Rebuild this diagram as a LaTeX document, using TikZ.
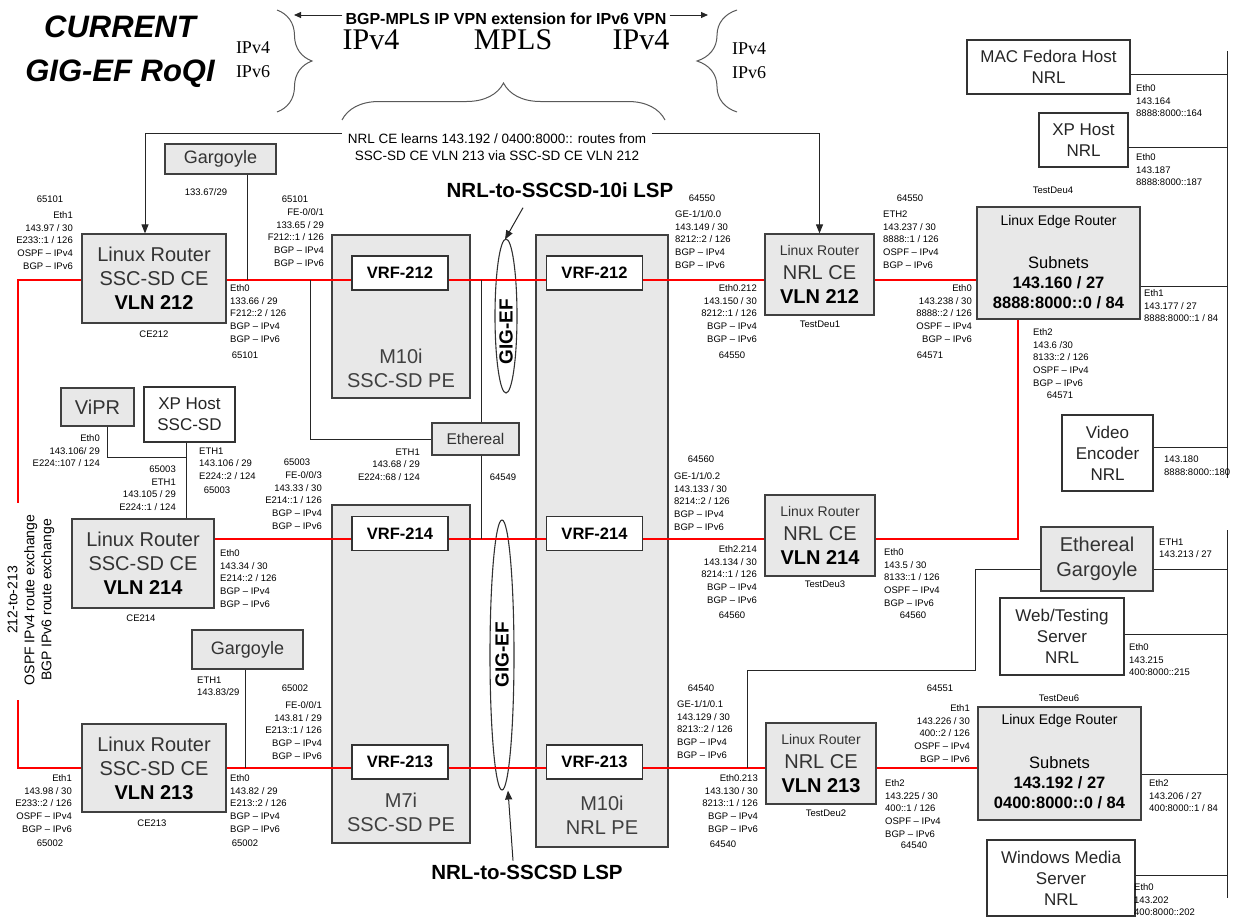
\documentclass[tikz,border=0pt]{standalone}
\usepackage{fontspec}
\setmainfont{Liberation Sans}
\newfontfamily\serifip{Liberation Serif}
\usetikzlibrary{arrows.meta, positioning, calc, shapes.geometric, decorations.pathreplacing}

\tikzset{
  cebox/.style={draw=black!75, fill=black!9, line width=1.2pt, inner sep=0pt, align=center, text=black!80, font=\fontsize{20}{24}\selectfont},
  pebox/.style={draw=black!75, fill=black!9, line width=1.2pt, inner sep=0pt},
  graybox/.style={draw=black!75, fill=black!9, line width=1.2pt, inner sep=0pt, align=center, text=black!80},
  hostbox/.style={draw=black!80, fill=white, line width=1.2pt, inner sep=0pt, align=center, text=black!85, font=\fontsize{17}{21}\selectfont},
  vrf/.style={draw=black!80, fill=white, line width=1.2pt, inner sep=0pt, minimum width=96, minimum height=34, font=\bfseries\fontsize{16.5}{18}\selectfont},
  petext/.style={align=center, inner sep=0pt, text=black!75, font=\fontsize{20}{24}\selectfont},
  lsp/.style={ellipse, draw=black!80, line width=1.1pt, inner sep=0pt},
  gigtext/.style={rotate=90, inner sep=0pt, font=\bfseries\fontsize{19}{20}\selectfont},
  lsptext/.style={inner sep=0pt, font=\bfseries\fontsize{20.5}{22}\selectfont},
  lbl/.style={inner sep=0pt, font=\fontsize{9.5}{12.7}\selectfont},
  lblr/.style={lbl, align=right, anchor=north east},
  lbll/.style={lbl, align=left, anchor=north west},
  link/.style={red, line width=2.8pt},
  wire/.style={black!85, line width=1pt},
  arr/.style={wire, -{Triangle[length=9pt, width=7pt]}},
  curly/.style={draw=black!65, line width=1pt, decorate},
}

\begin{document}
\begin{tikzpicture}[x=1pt, y=-1pt]
\useasboundingbox (0,0) rectangle (1236,918);

% --- header ---
\node[align=center, font=\bfseries\itshape\fontsize{31}{44}\selectfont] (title) at (120,52) {CURRENT\\GIG-EF RoQI};
\node[align=center, font=\serifip\fontsize{18}{24}\selectfont] (ipl) at (253,60) {IPv4\\IPv6};
\node[align=center, font=\serifip\fontsize{18}{24}\selectfont] (ipr) at (749,61) {IPv4\\IPv6};
\node[font=\serifip\fontsize{30}{32}\selectfont] (ipv4a) at (371,40) {IPv4};
\node[font=\serifip\fontsize{30}{32}\selectfont] (mpls) at (513,40) {MPLS};
\node[font=\serifip\fontsize{30}{32}\selectfont] (ipv4b) at (641,40) {IPv4};
\node[inner sep=0pt, font=\bfseries\fontsize{16}{18}\selectfont] (bgp) at (506,19) {BGP-MPLS IP VPN extension for IPv6 VPN};
\coordinate (bgpl) at (294,15);
\coordinate (bgpr) at (708,15);
\draw[wire, -{Triangle[length=7pt, width=6pt]}] ($(bgp.west |- bgpl)+(-3,0)$) -- (bgpl);
\draw[wire, -{Triangle[length=7pt, width=6pt]}] ($(bgp.east |- bgpr)+(3,0)$) -- (bgpr);
\draw[curly, decoration={brace, amplitude=35pt}] (277,10) -- (277,112);
\draw[curly, decoration={brace, amplitude=40pt}] (737,112) -- (737,10);
\draw[curly, decoration={brace, amplitude=37pt}] (342,120) -- (665,120);
\node[align=center, inner sep=0pt, font=\fontsize{13.5}{17}\selectfont] (learn) at (497,147.5) {NRL CE learns 143.192 / 0400:8000:: routes from\\SSC-SD CE VLN 213 via SSC-SD CE VLN 212};

% --- provider edge routers ---
\node[pebox, minimum width=138, minimum height=163] (pe1) at (401,316.5) {};
\node[pebox, minimum width=138, minimum height=338] (pe2) at (401,674) {};
\node[pebox, minimum width=132, minimum height=612] (pe3) at (602,541) {};
\node[petext] (pe1t) at (401,368.5) {M10i\\SSC-SD PE};
\node[petext] (pe2t) at (401,812.5) {M7i\\SSC-SD PE};
\node[petext] (pe3t) at (602,815.5) {M10i\\NRL PE};

\node[lsp, minimum width=22, minimum height=154] (gig1) at (506,316) {};
\node[gigtext] (gig1t) at (506,332) {GIG-EF};
\node[lsp, minimum width=24, minimum height=270] (gig2) at (502,655) {};
\node[gigtext] (gig2t) at (502,655) {GIG-EF};
\node[lsptext] (lspt1) at (560,190) {NRL-to-SSCSD-10i LSP};
\node[lsptext] (lspt2) at (527,872) {NRL-to-SSCSD LSP};
\draw[arr] ($(lspt1.south)+(-37,10)$) -- ($(gig1.north)+(-1,1)$);
\draw[arr] ($(lspt2.north)+(-14,-4)$) -- ($(gig2.south)+(6,0)$);

% --- SSC-SD side ---
\node[cebox, minimum width=144, minimum height=89] (ce212) at (154,278.5) {Linux Router\\SSC-SD CE\\\textbf{\color{black}VLN 212}};
\node[cebox, minimum width=142, minimum height=89] (ce214) at (143,563.5) {Linux Router\\SSC-SD CE\\\textbf{\color{black}VLN 214}};
\node[cebox, minimum width=144, minimum height=88] (ce213) at (154,768) {Linux Router\\SSC-SD CE\\\textbf{\color{black}VLN 213}};
\node[graybox, minimum width=111, minimum height=30, font=\fontsize{18}{20}\selectfont] (garg1) at (220.5,159) {Gargoyle};
\node[graybox, minimum width=111, minimum height=39, font=\fontsize{18}{20}\selectfont] (garg2) at (247.5,649.5) {Gargoyle};
\node[graybox, minimum width=73, minimum height=38, font=\fontsize{20}{22}\selectfont] (vipr) at (97.5,407) {ViPR};
\node[hostbox, minimum width=91, minimum height=55] (xps) at (189.5,414.5) {XP Host\\SSC-SD};
\node[graybox, minimum width=87, minimum height=32, font=\fontsize{15.5}{18}\selectfont] (ether) at (475.5,439) {Ethereal};

\node[vrf] (vrfa212) at (400,273) {VRF-212};
\node[vrf] (vrfb212) at (594.5,273) {VRF-212};
\node[vrf] (vrfa214) at (400,533.5) {VRF-214};
\node[vrf] (vrfb214) at (594.5,533.5) {VRF-214};
\node[vrf] (vrfa213) at (400,762) {VRF-213};
\node[vrf] (vrfb213) at (594.5,762) {VRF-213};

% --- NRL side ---
\node[cebox, minimum width=109, minimum height=81] (nrl212) at (819.5,274.5) {{\fontsize{14}{16}\selectfont Linux Router}\\NRL CE\\\textbf{\color{black}VLN 212}};
\node[cebox, minimum width=110, minimum height=81] (nrl214) at (820,535.5) {{\fontsize{14}{16}\selectfont Linux Router}\\NRL CE\\\textbf{\color{black}VLN 214}};
\node[cebox, minimum width=110, minimum height=81] (nrl213) at (821,763.5) {{\fontsize{14}{16}\selectfont Linux Router}\\NRL CE\\\textbf{\color{black}VLN 213}};
\node[pebox, minimum width=163, minimum height=112] (ler1) at (1058.5,263) {};
\node[inner sep=0pt, font=\fontsize{14}{16}\selectfont] (ler1t) at (1058.5,222) {Linux Edge Router};
\node[align=center, inner sep=0pt, font=\fontsize{16.5}{20}\selectfont] (ler1s) at (1058.5,282.5) {Subnets\\\textbf{143.160 / 27}\\\textbf{8888:8000::0 / 84}};
\node[pebox, minimum width=163, minimum height=113] (ler2) at (1059.5,763.5) {};
\node[inner sep=0pt, font=\fontsize{14}{16}\selectfont] (ler2t) at (1059.5,721) {Linux Edge Router};
\node[align=center, inner sep=0pt, font=\fontsize{16.5}{20}\selectfont] (ler2s) at (1059.5,782.5) {Subnets\\\textbf{143.192 / 27}\\\textbf{0400:8000::0 / 84}};
\node[hostbox, minimum width=163, minimum height=54] (mac) at (1048.5,67) {MAC Fedora Host\\NRL};
\node[hostbox, minimum width=89, minimum height=54] (xpn) at (1083.5,140) {XP Host\\NRL};
\node[hostbox, minimum width=91, minimum height=76] (video) at (1107.5,453) {Video\\Encoder\\NRL};
\node[graybox, minimum width=112, minimum height=64, font=\fontsize{20}{25}\selectfont] (ethg) at (1097,559) {Ethereal\\Gargoyle};
\node[hostbox, minimum width=124, minimum height=77] (web) at (1062,636.5) {Web/Testing\\Server\\NRL};
\node[hostbox, minimum width=148, minimum height=76] (wms) at (1061,878) {Windows Media\\Server\\NRL};

% --- red VLAN links ---
\coordinate (r212) at (0,280);
\coordinate (r214) at (0,539);
\coordinate (r213) at (0,768);
\coordinate (lv1) at (18,503);
\coordinate (lv2) at (18,700);
\coordinate (rv) at (1018,539);
\draw[link] (ce212.west |- r212) -| (lv1);
\draw[link] (lv2) |- (ce213.west |- r213);
\draw[link] (ce212.east |- r212) -- (vrfa212.west |- r212);
\draw[link] (vrfa212.east |- r212) -- (vrfb212.west |- r212);
\draw[link] (vrfb212.east |- r212) -- (nrl212.west |- r212);
\draw[link] (nrl212.east |- r212) -- (ler1.west |- r212);
\draw[link] (ce214.east |- r214) -- (vrfa214.west |- r214);
\draw[link] (vrfa214.east |- r214) -- (vrfb214.west |- r214);
\draw[link] (vrfb214.east |- r214) -- (nrl214.west |- r214);
\draw[link] (nrl214.east |- r214) -| (ler1.south -| rv);
\draw[link] (ce213.east |- r213) -- (vrfa213.west |- r213);
\draw[link] (vrfa213.east |- r213) -- (vrfb213.west |- r213);
\draw[link] (vrfb213.east |- r213) -- (nrl213.west |- r213);
\draw[link] (nrl213.east |- r213) -- (ler2.west |- r213);

% --- monitoring and host wires ---
\coordinate (t1) at (247,280);
\coordinate (t2) at (310,280);
\coordinate (t3) at (481,280);
\coordinate (t4) at (481,539);
\coordinate (t5) at (245,768);
\coordinate (j0) at (107,457);
\coordinate (j1) at (186,457);
\draw[wire] (garg1.south -| t1) -- (t1);
\draw[wire] (t2) |- (ether.west);
\draw[wire] (t3) -- (ether.north -| t3);
\draw[wire] (ether.south -| t4) -- (t4);
\draw[wire] (vipr.south -| j0) -- (j0) -- (j1);
\draw[wire] (xps.south -| j1) -- (ce214.north -| j1);
\draw[wire] (garg2.south -| t5) -- (t5);
\draw[arr] ($(learn.north west)+(-6,0)$) -| ($(ce212.north)+(-9,0)$);
\draw[arr] ($(learn.north east)+(6,0)$) -| (nrl212.north);

\coordinate (bus1top) at (1227,51);
\coordinate (bus1bot) at (1227,478);
\coordinate (bus2top) at (1227,530);
\coordinate (bus2bot) at (1227,898);
\draw[wire] (bus1top) -- (bus1bot);
\draw[wire] (bus2top) -- (bus2bot);
\draw[wire] (mac.east |- 0,74) -- (bus1top |- 0,74);
\draw[wire] (xpn.east |- 0,147) -- (bus1top |- 0,147);
\draw[wire] (ler1.east |- 0,286) -- (bus1top |- 0,286);
\draw[wire] (video.east |- 0,447) -- (bus1top |- 0,447);
\draw[wire] (ethg.east |- 0,569) -- (bus2top |- 0,569);
\draw[wire] (web.east |- 0,634) -- (bus2top |- 0,634);
\draw[wire] (ler2.east |- 0,774) -- (bus2top |- 0,774);
\draw[wire] (wms.east |- 0,875) -- (bus2top |- 0,875);
\coordinate (k1) at (975,569);
\coordinate (k2) at (975,670);
\coordinate (k3) at (747,670);
\coordinate (k4) at (747,768);
\draw[wire] (ethg.west |- k1) -- (k1) -- (k2) -- (k3) -- (k4);

\node[rotate=90, align=center, inner sep=0pt, font=\fontsize{14}{17}\selectfont] (xchg) at (31,600) {212-to-213\\OSPF IPv4 route exchange\\BGP IPv6 route exchange};

% --- interface labels, SSC-SD side ---
\node[lbl] (a65101a) at (50,199) {65101};
\node[lblr] (lce212w) at (73,211.5) {Eth1\\143.97 / 30\\E233::1 / 126\\OSPF – IPv4\\BGP – IPv6};
\node[lbll] (lce212e) at (230,284.5) {Eth0\\133.66 / 29\\F212::2 / 126\\BGP – IPv4\\BGP – IPv6};
\node[lbl] (a65101b) at (245,355) {65101};
\node[lbl] (a65101c) at (295,199) {65101};
\node[lblr] (lpe212) at (324,208.5) {FE-0/0/1\\133.65 / 29\\F212::1 / 126\\BGP – IPv4\\BGP – IPv6};
\node[lbl] (nce212) at (154,334) {CE212};
\node[lbl] (lgarg1) at (206,192) {133.67/29};
\node[lblr] (lvipr) at (100,434.5) {Eth0\\143.106/ 29\\E224::107 / 124};
\node[lblr] (lxps1) at (176,465.5) {65003\\ETH1\\143.105 / 29\\E224::1 / 124};
\node[lbll] (lxps2) at (199,447.5) {ETH1\\143.106 / 29\\E224::2 / 124};
\node[lbl] (a65003a) at (217,490) {65003};
\node[lbl] (a65003b) at (297,462) {65003};
\node[lblr] (lpe214) at (322,471.5) {FE-0/0/3\\143.33 / 30\\E214::1 / 126\\BGP – IPv4\\BGP – IPv6};
\node[lbll] (lce214e) at (220,549.5) {Eth0\\143.34 / 30\\E214::2 / 126\\BGP – IPv4\\BGP – IPv6};
\node[lbl] (nce214) at (141,618) {CE214};
\node[lblr] (lether) at (420,448.5) {ETH1\\143.68 / 29\\E224::68 / 124};
\node[lbl] (a64549) at (503,477) {64549};
\node[lbll] (lgarg2) at (197,676.5) {ETH1\\143.83/29};
\node[lbl] (a65002a) at (295,688) {65002};
\node[lblr] (lpe213) at (322,701.5) {FE-0/0/1\\143.81 / 29\\E213::1 / 126\\BGP – IPv4\\BGP – IPv6};
\node[lblr] (lce213w) at (72,774.5) {Eth1\\143.98 / 30\\E233::2 / 126\\OSPF – IPv4\\BGP – IPv6};
\node[lbl] (a65002b) at (50,843) {65002};
\node[lbll] (lce213e) at (230,774.5) {Eth0\\143.82 / 29\\E213::2 / 126\\BGP – IPv4\\BGP – IPv6};
\node[lbl] (a65002c) at (245,843) {65002};
\node[lbl] (nce213) at (152,823) {CE213};

% --- interface labels, NRL side ---
\node[lbl] (a64550a) at (702,198) {64550};
\node[lbll] (lnpe212) at (675,210.5) {GE-1/1/0.0\\143.149 / 30\\8212::2 / 126\\BGP – IPv4\\BGP – IPv6};
\node[lblr] (lnrl212w) at (757,284.5) {Eth0.212\\143.150 / 30\\8212::1 / 126\\BGP – IPv4\\BGP – IPv6};
\node[lbl] (a64550b) at (732,355) {64550};
\node[lbl] (tdeu1) at (820,324) {TestDeu1};
\node[lbl] (a64550c) at (910,198) {64550};
\node[lbll] (lnrl212e) at (883,210.5) {ETH2\\143.237 / 30\\8888::1 / 126\\OSPF – IPv4\\BGP – IPv6};
\node[lblr] (ller1w) at (972,284.5) {Eth0\\143.238 / 30\\8888::2 / 126\\OSPF – IPv4\\BGP – IPv6};
\node[lbl] (a64571a) at (930,355) {64571};
\node[lbl] (tdeu4) at (1053,190) {TestDeu4};
\node[lbll] (lmac) at (1136,84.5) {Eth0\\143.164\\8888:8000::164};
\node[lbll] (lxpn) at (1136,153.5) {Eth0\\143.187\\8888:8000::187};
\node[lbll] (ller1e) at (1144,289.5) {Eth1\\143.177 / 27\\8888:8000::1 / 84};
\node[lbll] (ller1s) at (1033,328.5) {Eth2\\143.6 /30\\8133::2 / 126\\OSPF – IPv4\\BGP – IPv6};
\node[lbl] (a64571b) at (1060,395) {64571};
\node[lbll] (lvideo) at (1164,455.5) {143.180\\8888:8000::180};
\node[lbl] (a64560a) at (701,459) {64560};
\node[lbll] (lnpe214) at (674,472.5) {GE-1/1/0.2\\143.133 / 30\\8214::2 / 126\\BGP – IPv4\\BGP – IPv6};
\node[lblr] (lnrl214w) at (757,545.5) {Eth2.214\\143.134 / 30\\8214::1 / 126\\BGP – IPv4\\BGP – IPv6};
\node[lbl] (a64560b) at (732,615) {64560};
\node[lbl] (tdeu3) at (825,584) {TestDeu3};
\node[lbll] (lnrl214e) at (884,548.5) {Eth0\\143.5 / 30\\8133::1 / 126\\OSPF – IPv4\\BGP – IPv6};
\node[lbl] (a64560c) at (913,615) {64560};
\node[lbll] (lethg) at (1159,538.5) {ETH1\\143.213 / 27};
\node[lbll] (lweb) at (1129,643.5) {Eth0\\143.215\\400:8000::215};
\node[lbl] (a64540a) at (701,688) {64540};
\node[lbll] (lnpe213) at (677,700.5) {GE-1/1/0.1\\143.129 / 30\\8213::2 / 126\\BGP – IPv4\\BGP – IPv6};
\node[lblr] (lnrl213w) at (758,774.5) {Eth0.213\\143.130 / 30\\8213::1 / 126\\BGP – IPv4\\BGP – IPv6};
\node[lbl] (a64540b) at (723,844) {64540};
\node[lbl] (tdeu2) at (826,813) {TestDeu2};
\node[lbl] (a64551) at (940,688) {64551};
\node[lblr] (ller2w) at (970,704.5) {Eth1\\143.226 / 30\\400::2 / 126\\OSPF – IPv4\\BGP – IPv6};
\node[lbll] (lnrl213e) at (885,779.5) {Eth2\\143.225 / 30\\400::1 / 126\\OSPF – IPv4\\BGP – IPv6};
\node[lbl] (a64540c) at (914,845) {64540};
\node[lbl] (tdeu6) at (1059,698) {TestDeu6};
\node[lbll] (ller2e) at (1149,779.5) {Eth2\\143.206 / 27\\400:8000::1 / 84};
\node[lbll] (lwms) at (1134,883.5) {Eth0\\143.202\\400:8000::202};

\end{tikzpicture}
\end{document}
